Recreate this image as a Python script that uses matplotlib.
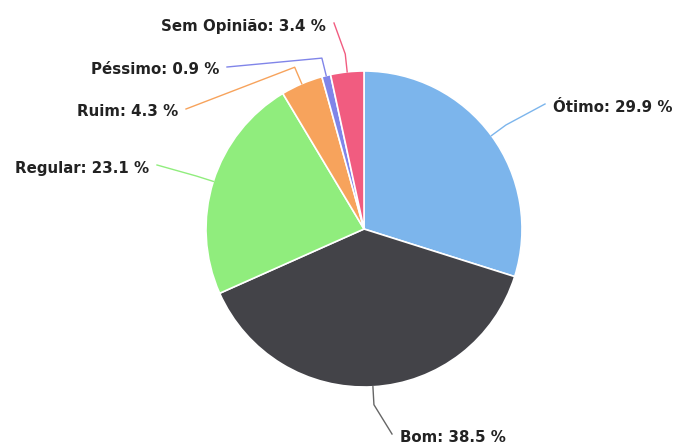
import numpy as np
import matplotlib
matplotlib.use("Agg")
import matplotlib.pyplot as plt

# data
categories = ["Ótimo", "Bom", "Regular", "Ruim", "Péssimo", "Sem Opinião"]
percentages = [29.9, 38.5, 23.1, 4.3, 0.9, 3.4]
colors = ["#7cb5ec", "#434348", "#90ed7d", "#f7a35c", "#8085e9", "#f15c80"]

W, H = 683, 447
CX, CY, R = 364, 229, 158   # pie centre / radius in pixel coords (y down)

# label anchor (pixel coords, y down) and alignment
label_pos = {
    "Ótimo": (553, 107, "left"),
    "Bom": (400, 437, "left"),
    "Regular": (149, 168, "right"),
    "Ruim": (178, 112, "right"),
    "Péssimo": (219, 70, "right"),
    "Sem Opinião": (326, 26, "right"),
}


def py(y):
    return H - y


fig = plt.figure(figsize=(W / 100, H / 100), dpi=100)
ax = fig.add_axes([0, 0, 1, 1])

wedges, _ = ax.pie(
    percentages,
    colors=colors,
    startangle=90,
    counterclock=False,
    center=(CX, py(CY)),
    radius=R,
    wedgeprops=dict(edgecolor="white", linewidth=1.2),
)

for w, name, pct, col in zip(wedges, categories, percentages, colors):
    mid = np.deg2rad((w.theta1 + w.theta2) / 2)
    ex, ey = CX + R * np.cos(mid), py(CY) + R * np.sin(mid)
    elx, ely = CX + (R + 18) * np.cos(mid), py(CY) + (R + 18) * np.sin(mid)
    tx, ty, ha = label_pos[name]
    end_x = tx - 8 if ha == "left" else tx + 8
    end_y = py(ty) + 3
    line_col = "#666666" if name == "Bom" else col
    ax.plot([ex, elx, end_x], [ey, ely, end_y], color=line_col, lw=1)
    ax.text(tx, py(ty), f"{name}: {pct} %", ha=ha, va="center",
            family="DejaVu Sans", fontsize=10.8, fontweight="bold", color="#222222")

ax.set_xlim(0, W)
ax.set_ylim(0, H)
ax.set_aspect("equal")
ax.axis("off")

fig.savefig("out.png", dpi=100, facecolor="white")
